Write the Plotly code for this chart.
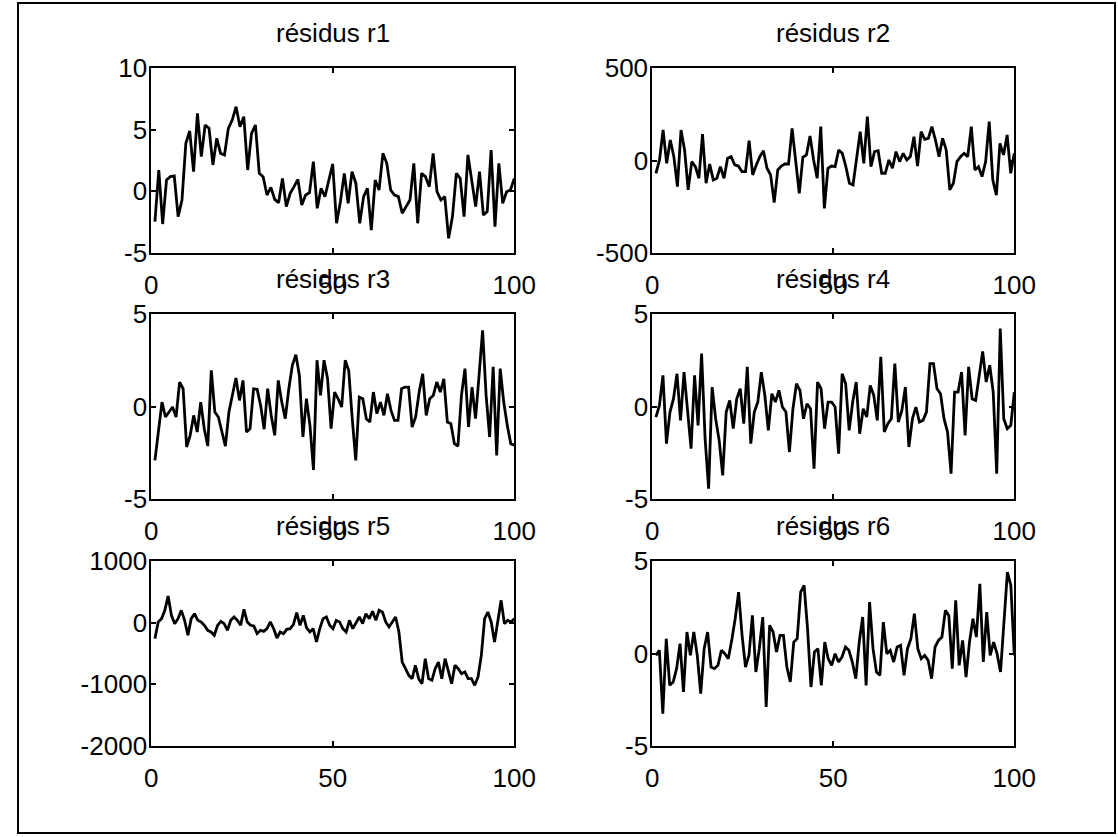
import numpy as np
import plotly.graph_objects as go

# Residual series r1..r6 (one sample per step, 100-step window)
r1 = [-2.46, 1.73, -2.65, 0.92, 1.19, 1.25, -2.05, -0.70, 3.89, 4.89, 1.59, 6.32, 2.81, 5.38,
      5.11, 2.14, 4.30, 3.08, 2.95, 5.11, 5.78, 6.86, 5.24, 6.05, 1.73, 4.70, 5.38, 1.46, 1.19,
      -0.30, 0.32, -0.65, -0.92, 1.05, -1.24, -0.16, 0.38, 0.97, -1.11, -0.30, -0.11, 2.41,
      -1.38, 0.24, -0.43, 0.78, 2.22, -2.59, -0.84,
      1.46, -0.97, 1.59, 0.65, -2.59, -0.43, 0.24, -3.14, 0.92, 0.11, 3.08, 2.27, 0.11, -0.30,
      -0.43, -1.78, -1.24, -0.70, 2.27, -2.59, 1.46, 1.19, 0.38, 3.08, -0.03, -0.70, -0.43,
      -3.81, -2.05, 1.46, 1.05, -2.05, 2.95, 0.92, -1.24, 1.59, -1.92, -1.65, 3.35, -2.86,
      2.27, -0.97, -0.03, 0.11, 1.05]

r2 = [-69, 3, 165, -15, 111, 21, -141, 165, 57, -159, -6, -33, -96, 143, -123, -19, -105, -96,
      -33, -96, 12, 21, -24, -30, -60, -60, 107, -78, -24, 21, 53, -42, -78, -228, -51, -30,
      -19, -19, 174, 3, -177, 17, 30, 132, 3, -96, 183, -259, -42, -30, -33, 57, 39, -33, -123,
      -132, 21, 156, -15, 237, -33, 48, 53, -69, -69, 3, -42, 48, -6, 39, 3, 21, 129, -30, 156,
      114, 120, 183, 111, 21, 120, 57, -159, -123, -6, 21, 39, 21, 183, -51, -33, -87, -6, 210,
      -105, -187, 93, 30, 138, -69, 39]

r3 = [-2.91, -1.38, 0.24, -0.57, -0.30, -0.03, -0.57, 1.32, 0.96, -2.19, -1.56, -0.48, -1.38,
      0.24, -1.20, -2.14, 1.95, -0.30, -0.57, -1.38, -2.14, -0.30, 0.69, 1.54, 0.33, 1.41,
      -1.38, -1.20, 0.96, 0.93, 0.06, -1.23, 0.96, -0.48, -1.56, 1.41, 0.24, -0.66, 0.96, 2.23,
      2.80, 1.68, -1.65, 0.42, -1.02, -3.43, 2.50, 0.60, 2.50, 1.50, -1.20, 0.78,
      0.42, -0.03, 2.50, 1.95, -0.66, -2.91, 0.51, 0.42, -0.66, -0.84, 0.78, -0.39, 0.24, -0.48,
      0.69, -0.21, -0.75, -0.75, 0.96, 1.05, 1.05, -1.11, -0.57, 0.78, 1.77, -0.48, 0.42, 0.60,
      1.32, 0.78, 1.50, -0.84, -0.93, -2.01, -2.14, 0.60, 2.05, -1.11, 1.05, -0.66, 1.68, 4.12,
      0.60, -1.65, 2.14, -2.64, 2.05, 0.24, -1.02, -2.01, -2.10]

r4 = [-0.57, 0.06, 1.68, -2.01, -0.30, 0.42, 1.77, -0.75, 1.86, -0.12, -2.28, 1.68, -1.02, 2.86,
      -1.74, -4.44, 1.05, -0.66, -1.83, -3.72, -0.30, 0.33, -1.20, 0.42, 0.96, -0.93, 2.14,
      -2.01, -0.30, 0.24, 1.86, 0.60, -1.29, 0.69, 0.24, 0.87, -0.03, -0.30, -2.46, -0.12, 1.23,
      0.87, -0.66, 0.15, -0.12, -3.36, 1.32, 0.96, -1.20, 0.24, 0.24,
      -0.03, -2.55, 1.77, 1.23, -1.29, 0.24, 1.32, -1.47, -0.12, -0.57, 1.14, 0.60, -0.75, 2.68,
      -1.38, -0.93, -0.66, 2.32, -0.84, -0.21, 1.05, -2.19, -0.66, -0.03, -0.84, -0.75, -0.30,
      2.32, 2.32, 0.96, 0.69, -0.66, -1.38, -3.63, 0.78, 0.78, 1.86, -1.56, 2.14, 0.42, 0.33,
      1.59, 2.98, 1.32, 2.23, 0.78, -3.63, 4.21, -0.66, -1.20, -1.02, 0.78]

r5 = [-259, 11, 65, 200, 432, 119, -16, 65, 200, 38, -205, 65, 146, 38, 11, -43, -124, -151,
      -205, -43, 22, -16, -124, 38, 92, 38, -43, 216, 11, -43, -54, -178, -124, -141, -97, 11,
      -97, -249, -151, -178, -108, -97, -32, 162, -43, 119, -86, -151, -97, -313, -97, 65, 92,
      -43,
      -97, 38, 11, -97, -151, 38, -97, 11, 92, -16, 146, 65, 184, 38, 200, 173, 11, -70, 11, 92,
      -151, -638, -746, -854, -908, -692, -908, -989, -584, -908, -935, -746, -638, -908, -584,
      -800, -989, -692, -746, -827, -800, -908, -908, -1016, -881, -530, 65, 173, 11, -313, 11,
      362, -16, 38, 11, 65]

r6 = [-0.10, 0.17, -3.25, 0.80, -1.72, -1.54, -0.82, 0.53, -2.08, 1.16, -0.10, 1.16, -0.10,
      -2.17, 0.26, 1.16, -0.73, -0.82, -0.64, 0.17, -0.01, -0.28, 0.71, 1.88, 3.32, 0.98,
      -0.73, -0.10, 2.06, -1.00, 0.26, 1.97, -2.89, 1.52, 1.16, 0.08, 0.98, 0.98, -0.73, -1.54,
      0.62, 0.80, 3.32, 3.68, 1.34, -1.81, 0.08, 0.26, -1.72, 0.62, -0.28, -0.64, -0.01, -0.46,
      -0.19, 0.35,
      0.17, -0.46, -1.36, 0.62, 1.97, -1.72, 2.78, 0.26, -1.00, -1.18, 1.70, -0.01, 0.17, -0.46,
      0.35, 0.44, -1.18, 0.26, 0.80, 2.15, 0.26, -0.28, -0.10, -0.37, -1.36, 0.35, 0.71, 0.89,
      2.33, 2.06, -0.82, 2.87, -0.64, 0.71, -1.27, 0.62, 1.88, 0.89, 3.77, -0.46, 2.24, -0.10,
      0.62, -0.01, -1.00, 1.70, 4.40, 3.68, -0.10]

titles = ["résidus r1", "résidus r2", "résidus r3", "résidus r4", "résidus r5", "résidus r6"]
y_ranges = [[-5, 10], [-500, 500], [-5, 5], [-5, 5], [-2000, 1000], [-5, 5]]
y_ticks = [[-5, 0, 5, 10], [-500, 0, 500], [-5, 0, 5], [-5, 0, 5],
           [-2000, -1000, 0, 1000], [-5, 0, 5]]
x_ticks = [0, 50, 100]

W, H = 1118, 837
FONT = dict(family="Liberation Sans, Arial, Helvetica, sans-serif", size=26, color="black")

# pixel boxes of the axes: columns (left, right), rows (top, bottom)
cols = [(151.3, 514.3), (652.3, 1014.3)]
rows = [(68, 253), (314, 499), (561, 746)]

series = [r1, r2, r3, r4, r5, r6]

fig = go.Figure()
layout = {}
annotations = []
for i, vals in enumerate(series):
    k = i + 1
    r, c = divmod(i, 2)
    xl, xr = cols[c]
    yt, yb = rows[r]
    xname = "x" if k == 1 else f"x{k}"
    yname = "y" if k == 1 else f"y{k}"
    xs = np.linspace(1, 100, len(vals))
    fig.add_trace(go.Scatter(x=xs, y=vals, mode="lines",
                             line=dict(color="black", width=2.8),
                             xaxis=xname, yaxis=yname, showlegend=False,
                             hoverinfo="skip"))
    common = dict(showline=True, linecolor="black", linewidth=2, mirror="allticks",
                  ticks="inside", ticklen=5, tickwidth=1.5, tickcolor="black",
                  showgrid=False, zeroline=False, tickfont=FONT, fixedrange=True,
                  automargin=False)
    layout["xaxis" if k == 1 else f"xaxis{k}"] = dict(
        domain=[xl / W, xr / W], anchor=yname, range=[0, 100],
        tickmode="array", tickvals=x_ticks, ticktext=[str(v) for v in x_ticks],
        ticklabelstandoff=8, **common)
    layout["yaxis" if k == 1 else f"yaxis{k}"] = dict(
        domain=[1 - yb / H, 1 - yt / H], anchor=xname, range=y_ranges[i],
        tickmode="array", tickvals=y_ticks[i], ticktext=[str(v) for v in y_ticks[i]],
        ticklabelstandoff=-3, **common)
    annotations.append(dict(text=titles[i], x=(xl + xr) / 2 / W, y=1 - (yt - 18) / H,
                            xref="paper", yref="paper", xanchor="center", yanchor="bottom",
                            showarrow=False, font=FONT))

fig.update_layout(
    template="none",
    width=W, height=H, autosize=False,
    margin=dict(l=0, r=0, t=0, b=0, pad=0, autoexpand=False),
    paper_bgcolor="white", plot_bgcolor="white",
    annotations=annotations,
    shapes=[dict(type="rect", xref="paper", yref="paper",
                 x0=18 / W, x1=1115 / W, y0=1 - 833 / H, y1=1 - 3 / H,
                 line=dict(color="black", width=2))],
    **layout,
)

fig.write_html("out.html")
